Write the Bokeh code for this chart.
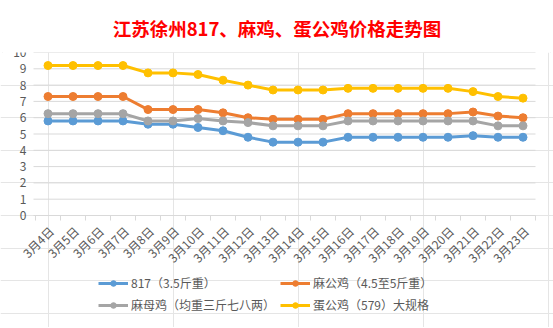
import math
from bokeh.plotting import figure
from bokeh.models import Range1d, Legend, LegendItem, Title
from bokeh.core.properties import value
from bokeh.embed import file_html
from bokeh.resources import INLINE

dates = ["3月%d日" % d for d in range(4, 24)]
s817 = [5.8, 5.8, 5.8, 5.8, 5.6, 5.6, 5.4, 5.2, 4.8, 4.5, 4.5, 4.5, 4.8, 4.8, 4.8, 4.8, 4.8, 4.9, 4.8, 4.8]
male = [7.3, 7.3, 7.3, 7.3, 6.5, 6.5, 6.5, 6.3, 6.0, 5.9, 5.9, 5.9, 6.25, 6.25, 6.25, 6.25, 6.25, 6.35, 6.1, 6.0]
female = [6.25, 6.25, 6.25, 6.25, 5.8, 5.8, 5.95, 5.8, 5.7, 5.5, 5.5, 5.5, 5.8, 5.8, 5.8, 5.8, 5.8, 5.8, 5.5, 5.5]
egg = [9.2, 9.2, 9.2, 9.2, 8.75, 8.75, 8.65, 8.3, 8.0, 7.7, 7.7, 7.7, 7.8, 7.8, 7.8, 7.8, 7.8, 7.6, 7.3, 7.2]
y_ticks = list(range(0, 11))
names = ["817（3.5斤重）", "麻公鸡（4.5至5斤重）", "麻母鸡（均重三斤七八两）", "蛋公鸡（579）大规格"]
colors = ["#5B9BD5", "#ED7D31", "#A5A5A5", "#FFC000"]
title_text = "江苏徐州817、麻鸡、蛋公鸡价格走势图"

FONT = "Noto Sans CJK SC"
GRAY = "#D9D9D9"
TXT = "#595959"

n = len(dates)
xs = list(range(n))

# layout (pixels)
W, H, TOP = 553, 328, 53
PLOT_L, PLOT_R = 35, 535          # plot-area edges in pixels
PLOT_H = 163                      # pixel height of the 0..10 value band
cat_w = (PLOT_R - PLOT_L) / n
ppu_y = PLOT_H / (y_ticks[-1] - y_ticks[0])
frame_h = H - TOP

x_range = Range1d(-0.5 - PLOT_L / cat_w, n - 0.5 + (W - PLOT_R) / cat_w)
y_range = Range1d(y_ticks[-1] - frame_h / ppu_y, y_ticks[-1])

p = figure(frame_width=W, frame_height=frame_h, x_range=x_range, y_range=y_range,
           output_backend="svg", toolbar_location=None,
           x_axis_location=None, y_axis_location=None,
           min_border_left=0, min_border_right=0, min_border_top=6, min_border_bottom=0)
p.title = Title(text=title_text, align="center", text_color="#FF0000", text_font=FONT,
                text_font_size="18.5px", text_font_style="bold", offset=0, standoff=24)
p.outline_line_color = None
p.background_fill_color = "white"
p.border_fill_color = "white"
p.styles = {"outline": "1px solid #D9D9D9", "outline-offset": "-3px"}

# horizontal gridlines for the value axis
p.segment(x0=[-0.58] * len(y_ticks), x1=[n - 0.5] * len(y_ticks), y0=y_ticks, y1=y_ticks,
          line_color=GRAY, line_width=1)
# value-axis labels
p.text(x=[-0.5] * len(y_ticks), y=y_ticks, text=[str(t) for t in y_ticks],
       x_offset=-9, text_align="right", text_baseline="middle",
       text_font=value(FONT), text_font_size="12px", text_color=TXT)
# category tick marks between categories
edges = [i - 0.5 for i in range(n + 1)]
p.segment(x0=edges, x1=edges, y0=[0] * len(edges), y1=[-5 / ppu_y] * len(edges),
          line_color=GRAY, line_width=1)
# category labels, rotated
p.text(x=xs, y=[0] * n, text=dates, angle=math.pi / 4, x_offset=3, y_offset=13,
       text_align="right", text_baseline="middle",
       text_font=value(FONT), text_font_size="12px", text_color=TXT)

items = []
for vals, name, c in zip([s817, male, female, egg], names, colors):
    r1 = p.line(xs, vals, line_color=c, line_width=3)
    r2 = p.scatter(xs, vals, size=8, fill_color=c, line_color=c)
    items.append(LegendItem(label=name, renderers=[r1, r2]))

legend = Legend(items=items, orientation="horizontal", ncols=2, location=(98, 14),
                label_text_font=FONT, label_text_font_size="12px", label_text_color=TXT,
                border_line_color=None, background_fill_alpha=0, glyph_width=30,
                glyph_height=14, label_height=14,
                spacing=5, padding=2, margin=0, label_standoff=3)
p.add_layout(legend, "center")

open("out.html", "w").write(file_html(p, INLINE))
